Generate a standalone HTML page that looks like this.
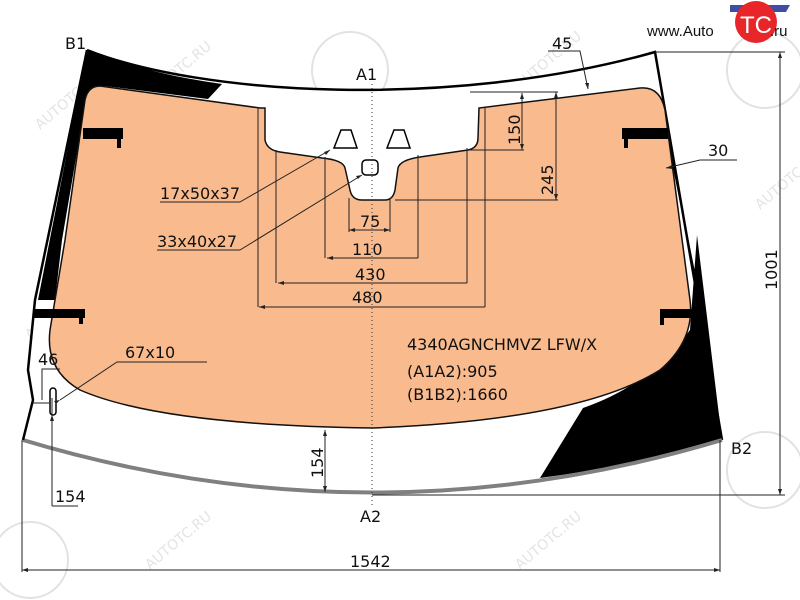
<!DOCTYPE html>
<html><head><meta charset="utf-8"><style>
html,body{margin:0;padding:0;background:#fff;}
svg{display:block;font-family:"DejaVu Sans","Liberation Sans",sans-serif;}
</style></head><body>
<svg width="800" height="600" viewBox="0 0 800 600" xmlns="http://www.w3.org/2000/svg">
<!-- watermarks -->
<g fill="none" stroke="#e2e2e2" stroke-width="2" font-size="14" >
<text x="40" y="130" transform="rotate(-40 40 130)" fill="#e4e4e4" stroke="none">AUTOTC.RU</text>
<text x="150" y="100" transform="rotate(-40 150 100)" fill="#e4e4e4" stroke="none">AUTOTC.RU</text>
<text x="30" y="340" transform="rotate(-40 30 340)" fill="#e4e4e4" stroke="none">AUTOTC.RU</text>
<text x="150" y="570" transform="rotate(-40 150 570)" fill="#e4e4e4" stroke="none">AUTOTC.RU</text>
<text x="520" y="570" transform="rotate(-40 520 570)" fill="#e4e4e4" stroke="none">AUTOTC.RU</text>
<text x="640" y="440" transform="rotate(-40 640 440)" fill="#e4e4e4" stroke="none">AUTOTC.RU</text>
<text x="760" y="210" transform="rotate(-40 760 210)" fill="#e4e4e4" stroke="none">AUTOTC.RU</text>
<text x="520" y="90" transform="rotate(-40 520 90)" fill="#e4e4e4" stroke="none">AUTOTC.RU</text>
<circle cx="350" cy="70" r="38"/><circle cx="765" cy="70" r="38"/><circle cx="765" cy="470" r="38"/><circle cx="30" cy="560" r="38"/>
</g>
<!-- glass fill -->
<path d="M87,50 C200,95 450,110 655,52 L722,440 Q372,545 23,440 L33,400 L28,370 L35,300 Z" fill="#fff"/>
<!-- black top-left frit -->
<path d="M87,50 C140,70 180,78 222,84 L208,99 L105,86 Q88,86 85,105 L62,240 L55,300 L38,300 Z" fill="#000"/>
<!-- right frit -->
<path d="M697,235 L722,440 Q640,465 540,478 L583,408 Q650,385 690,330 Z" fill="#000"/>
<path d="M87,50 C200,95 450,110 655,52 L722,440" stroke="#000" stroke-width="2.5" fill="none"/>
<path d="M664,120 L700,300" stroke="#000" stroke-width="1.2" fill="none"/>
<!-- orange -->
<path d="M100,86 L260,108 L265,108 L265,140 Q267,150 280,152 L322,158 Q343,160 345,168 L350,190 Q352,200 362,200 L385,200 Q393,200 395,190 L398,168 Q400,160 420,157 L468,150 Q478,148 478,138 L479,108 L640,88 Q660,86 665,110 L690,300 Q695,340 660,370 Q580,420 372,428 Q160,425 80,390 Q45,370 50,330 L65,240 L85,100 Q88,86 100,86 Z" fill="#f9bb8d" stroke="#111" stroke-width="1.5"/>
<!-- bottom grey edge -->
<path d="M23,440 Q372,545 722,440" fill="none" stroke="#808080" stroke-width="4"/>
<path d="M23,440 L33,400 L28,370 L35,300 L87,50" fill="none" stroke="#000" stroke-width="2.5"/>
<!-- brackets -->
<g fill="#000">
<rect x="83" y="128" width="40" height="11"/><rect x="117" y="136" width="4" height="12"/>
<rect x="33" y="309" width="52" height="9"/><rect x="79" y="315" width="4" height="9"/>
<rect x="622" y="128" width="46" height="11"/><rect x="624" y="136" width="4" height="12"/>
<rect x="660" y="309" width="34" height="9"/><rect x="660" y="315" width="4" height="10"/>
</g>
<!-- sensors -->
<g fill="#fff" stroke="#000" stroke-width="1.5">
<path d="M341,130 L351,130 L357,148 L334,148 Z"/>
<path d="M394,130 L404,130 L410,148 L387,148 Z"/>
<rect x="362" y="160" width="16" height="15" rx="4"/>
<rect x="50" y="388" width="6" height="27" rx="3"/>
</g>
<!-- A1 axis -->
<line x1="372" y1="84" x2="372" y2="505" stroke="#333" stroke-width="1" stroke-dasharray="1,3"/>
<!-- dimension lines -->
<g stroke="#222" stroke-width="1" fill="none">
<line x1="258" y1="108" x2="258" y2="307"/>
<line x1="276" y1="150" x2="276" y2="283"/>
<line x1="325" y1="157" x2="325" y2="258"/>
<line x1="349" y1="198" x2="349" y2="232"/>
<line x1="390" y1="198" x2="390" y2="232"/>
<line x1="418" y1="155" x2="418" y2="258"/>
<line x1="467" y1="148" x2="467" y2="283"/>
<line x1="485" y1="108" x2="485" y2="307"/>
<line x1="349" y1="230" x2="390" y2="230"/>
<line x1="327" y1="258" x2="418" y2="258"/>
<line x1="278" y1="283" x2="467" y2="283"/>
<line x1="259" y1="307" x2="485" y2="307"/>
<line x1="470" y1="150" x2="524" y2="150"/>
<line x1="522" y1="93" x2="522" y2="150"/>
<line x1="395" y1="200" x2="558" y2="200"/>
<line x1="556" y1="92" x2="556" y2="200"/>
<line x1="470" y1="92" x2="558" y2="92"/>
<polyline points="548,51 580,51 588,89"/>
<polyline points="737,160 700,160 666,168"/>
<line x1="655" y1="52" x2="785" y2="52"/>
<line x1="780" y1="52" x2="780" y2="495"/>
<line x1="372" y1="495" x2="785" y2="495"/>
<line x1="720" y1="440" x2="720" y2="572"/>
<line x1="22" y1="440" x2="22" y2="572"/>
<line x1="22" y1="570" x2="720" y2="570"/>
<line x1="52" y1="398" x2="52" y2="506"/>
<polyline points="78,506 52,506"/>
<line x1="325" y1="430" x2="325" y2="492"/>
<polyline points="42,400 42,369 60,369"/>
<line x1="33" y1="403" x2="50" y2="403"/>
<polyline points="207,362 117,362 60,400"/>
<polyline points="240,202 160,202"/><line x1="240" y1="202" x2="330" y2="150"/>
<polyline points="240,250 157,250"/><line x1="240" y1="250" x2="362" y2="175"/>
</g>
<!-- arrows -->
<g fill="#222">
<path d="M349,230 l6,-2 v4z"/><path d="M390,230 l-6,-2 v4z"/>
<path d="M327,258 l6,-2 v4z"/><path d="M278,283 l6,-2 v4z"/><path d="M259,307 l6,-2 v4z"/>
<path d="M522,93 l-2,6 h4z"/><path d="M522,150 l-2,-6 h4z"/>
<path d="M556,92 l-2,6 h4z"/><path d="M556,200 l-2,-6 h4z"/>
<path d="M588,89 l-3,-6 h4z"/><path d="M666,168 l6,-3 v4z"/>
<path d="M780,52 l-2,6 h4z"/><path d="M780,495 l-2,-6 h4z"/>
<path d="M22,570 l6,-2 v4z"/><path d="M720,570 l-6,-2 v4z"/>
<path d="M52,415 l-2,6 h4z"/><path d="M325,430 l-2,6 h4z"/><path d="M325,492 l-2,-6 h4z"/>
<path d="M60,400 l-6,1 l2,3z"/><path d="M330,150 l-6,2 l2,3z"/><path d="M362,175 l-6,1 l2,3z"/>
</g>
<!-- labels -->
<g font-size="16" fill="#111">
<text x="65" y="49">B1</text>
<text x="356" y="80">A1</text>
<text x="360" y="522">A2</text>
<text x="731" y="454">B2</text>
<text x="360" y="227">75</text>
<text x="352" y="255">110</text>
<text x="355" y="280">430</text>
<text x="352" y="303">480</text>
<text x="160" y="199">17x50x37</text>
<text x="157" y="247">33x40x27</text>
<text x="125" y="358">67x10</text>
<text x="38" y="365">46</text>
<text x="55" y="502">154</text>
<text x="350" y="567">1542</text>
<text x="552" y="49">45</text>
<text x="708" y="156">30</text>
<text transform="translate(520,145) rotate(-90)">150</text>
<text transform="translate(553,195) rotate(-90)">245</text>
<text transform="translate(777,290) rotate(-90)">1001</text>
<text transform="translate(323,478) rotate(-90)">154</text>
<text x="407" y="350">4340AGNCHMVZ LFW/X</text>
<text x="407" y="377">(A1A2):905</text>
<text x="407" y="400">(B1B2):1660</text>
</g>
<!-- logo -->
<path d="M730,5 L790,5 L786,12 L730,12Z" fill="#2a3a9a" opacity="0.9"/>
<circle cx="756" cy="22" r="21" fill="#e8262a"/>
<text x="647" y="36" font-size="15" fill="#111" font-family="Liberation Sans,sans-serif">www.Auto</text>
<text x="740" y="33" font-size="24" fill="#fff" font-family="Liberation Sans,sans-serif">TC</text>
<text x="770" y="36" font-size="15" fill="#111" font-family="Liberation Sans,sans-serif">.ru</text>
</svg>
</body></html>
